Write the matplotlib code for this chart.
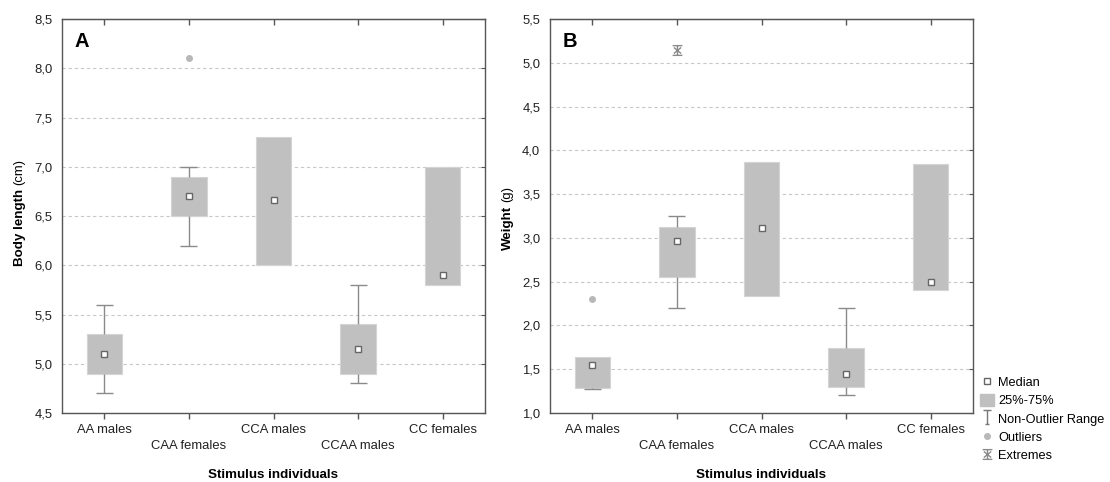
import numpy as np
from matplotlib import pyplot as plt
from matplotlib.lines import Line2D
from matplotlib.patches import Patch
from matplotlib.path import Path
from matplotlib.ticker import FuncFormatter, MultipleLocator

plt.rcParams['font.family'] = ['Liberation Sans', 'DejaVu Sans']

groups = ['AA males', 'CAA females', 'CCA males', 'CCAA males', 'CC females']

# A: body length (cm)
len_q1 = [4.9, 6.5, 6.0, 4.9, 5.8]
len_q3 = [5.3, 6.9, 7.3, 5.4, 7.0]
len_med = [5.1, 6.7, 6.66, 5.15, 5.9]
len_lo = [4.7, 6.2, np.nan, 4.8, np.nan]
len_hi = [5.6, 7.0, np.nan, 5.8, np.nan]
len_out_grp = ['CAA females']
len_out_val = [8.1]
len_ext_grp = []
len_ext_val = []

# B: weight (g)
w_q1 = [1.28, 2.555, 2.34, 1.30, 2.40]
w_q3 = [1.635, 3.13, 3.87, 1.745, 3.84]
w_med = [1.545, 2.96, 3.11, 1.45, 2.50]
w_lo = [1.27, 2.2, np.nan, 1.21, np.nan]
w_hi = [np.nan, 3.25, np.nan, 2.2, np.nan]
w_out_grp = ['AA males']
w_out_val = [2.3]
w_ext_grp = ['CAA females']
w_ext_val = [5.15]

BOX = '#c0c0c0'
WHISK = '#8a8a8a'
SPINE = '#555555'
FS = 9.4

# I-beam marker for the legend, asterisk-like marker for extremes
ibeam = Path([(-0.6, 1), (0.6, 1), (0, 1), (0, -1), (-0.3, -1), (0.3, -1)],
             [Path.MOVETO, Path.LINETO, Path.MOVETO, Path.LINETO, Path.MOVETO, Path.LINETO])
extreme = Path([(-0.8, 0.8), (0.8, 0.8), (-0.8, -0.8), (0.8, -0.8), (0, 0.8), (0, -0.8),
                (-0.6, -0.5), (0.6, 0.5), (-0.6, 0.5), (0.6, -0.5)],
               [Path.MOVETO, Path.LINETO] * 5)


def draw_box(ax, q1, q3, med, lo, hi, out_grp, out_val, ext_grp, ext_val, ylim, ylabel, unit, letter):
    x = np.arange(1, len(groups) + 1)
    q1, q3, lo, hi = map(np.asarray, (q1, q3, lo, hi))
    ax.bar(x, q3 - q1, bottom=q1, width=0.42, color=BOX, edgecolor='#d4d4d4', lw=0.8, zorder=2)
    ax.vlines(x, lo, q1, color=WHISK, lw=1, zorder=2)
    ax.vlines(x, q3, hi, color=WHISK, lw=1, zorder=2)
    ax.hlines(lo, x - 0.1, x + 0.1, color=WHISK, lw=1, zorder=2)
    ax.hlines(hi, x - 0.1, x + 0.1, color=WHISK, lw=1, zorder=2)
    ax.plot(x, med, 's', ms=4.5, mfc='white', mec='#666666', mew=1, zorder=3)
    ox = [groups.index(g) + 1 for g in out_grp]
    ax.plot(ox, out_val, 'o', ms=4, color='#b8b8b8', zorder=3)
    ex = [groups.index(g) + 1 for g in ext_grp]
    ax.plot(ex, ext_val, ls='none', marker=extreme, ms=7, mew=1, color='#8a8a8a', zorder=3)

    ax.set_xlim(0.5, len(groups) + 0.5)
    ax.set_ylim(*ylim)
    ax.yaxis.set_major_locator(MultipleLocator(0.5))
    ax.yaxis.set_major_formatter(FuncFormatter(lambda v, p: f'{v:.1f}'.replace('.', ',')))
    ax.grid(axis='y', color='#c8c8c8', ls=(0, (3, 2.5)), lw=0.8, zorder=0)
    ax.set_axisbelow(True)

    ax.set_xticks(x)
    ax.set_xticklabels([g if i % 2 == 0 else '\n' + g for i, g in enumerate(groups)])
    for lbl in ax.get_xticklabels():
        lbl.set_linespacing(1.45)
    ax.tick_params(axis='x', direction='out', length=4, width=1, color=SPINE,
                   labelsize=FS, labelcolor='#222222', pad=4)
    ax.tick_params(axis='y', length=3, direction='in', left=False, right=True, color=SPINE,
                   labelsize=FS, labelcolor='#222222', pad=7)
    for side in ax.spines.values():
        side.set_color(SPINE)
        side.set_linewidth(1)
    # top ticks point inward
    top = ax.secondary_xaxis('top')
    top.set_xticks(x)
    top.tick_params(direction='in', length=4, width=1, color=SPINE, labeltop=False)
    top.spines['top'].set_color(SPINE)

    ax.set_xlabel('Stimulus individuals', fontsize=9.6, fontweight='bold', labelpad=12)
    t = ax.text(-0.1, 0.47, ylabel, transform=ax.transAxes, rotation=90, fontsize=9.6,
                fontweight='bold', ha='center', va='center')
    ax.annotate(unit, xy=(0.5, 1.0), xycoords=t, xytext=(0, 3), textcoords='offset points',
                rotation=90, ha='center', va='bottom', fontsize=9.4)
    ax.text(0.03, 0.942, letter, transform=ax.transAxes, fontsize=14.5, fontweight='bold',
            ha='left', va='center')


fig = plt.figure(figsize=(11.1, 4.82), dpi=100)
axA = fig.add_axes([62 / 1110, 69 / 482, 423 / 1110, 394 / 482])
axB = fig.add_axes([550 / 1110, 69 / 482, 423 / 1110, 394 / 482])

draw_box(axA, len_q1, len_q3, len_med, len_lo, len_hi, len_out_grp, len_out_val,
         len_ext_grp, len_ext_val, (4.5, 8.5), 'Body length', '(cm)', 'A')
draw_box(axB, w_q1, w_q3, w_med, w_lo, w_hi, w_out_grp, w_out_val,
         w_ext_grp, w_ext_val, (1.0, 5.5), 'Weight', '(g)', 'B')

handles = [
    Line2D([], [], ls='none', marker='s', ms=4.5, mfc='white', mec='#666666', mew=1),
    Patch(fc=BOX, ec=BOX),
    Line2D([], [], ls='none', marker=ibeam, ms=10, mfc='none', mec='#777777', mew=1),
    Line2D([], [], ls='none', marker='o', ms=4, color='#b8b8b8'),
    Line2D([], [], ls='none', marker=extreme, ms=7, mew=1, color='#8a8a8a'),
]
labels = ['Median', '25%-75%', 'Non-Outlier Range', 'Outliers', 'Extremes']
fig.legend(handles, labels, loc='upper left', bbox_to_anchor=(980 / 1110, 1 - 376 / 482),
           frameon=False, fontsize=9.2, handlelength=1.1, handleheight=1.0, handletextpad=0.3,
           labelspacing=0.4, borderpad=0, borderaxespad=0)

plt.savefig('out.png', dpi=100)
